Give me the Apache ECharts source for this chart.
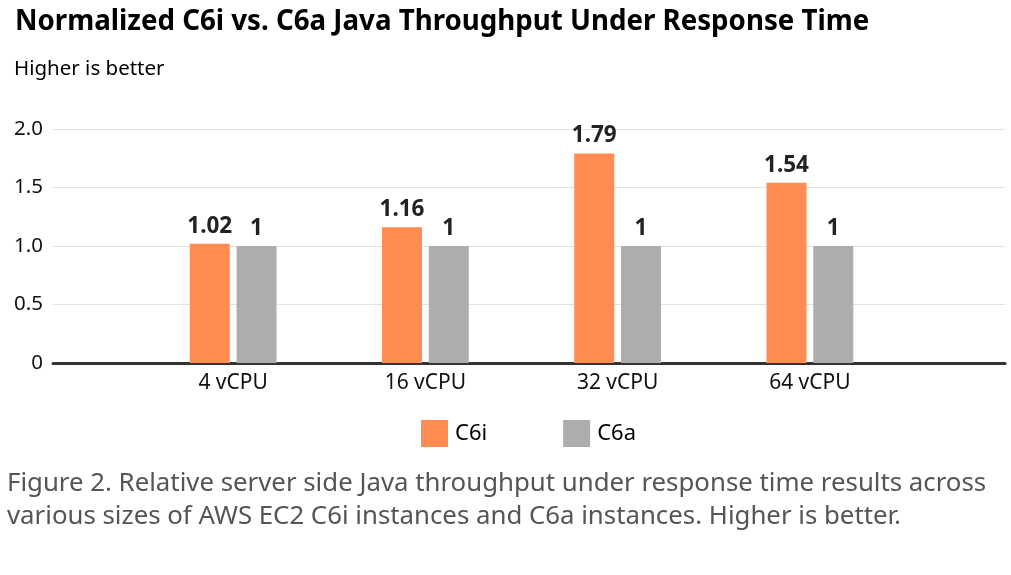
<!DOCTYPE html>
<html><head><meta charset="utf-8">
<script src="https://cdn.jsdelivr.net/npm/echarts@6/dist/echarts.min.js"></script>
<style>html,body{margin:0;padding:0;background:#fff}#c{width:1011px;height:575px}</style>
</head><body><div id="c"></div>
<script>
const categories = ['4 vCPU', '16 vCPU', '32 vCPU', '64 vCPU'];
const c6i = [1.02, 1.16, 1.79, 1.54];
const c6a = [1, 1, 1, 1];
const seriesNames = ['C6i', 'C6a'];
const yTicks = ['0', '0.5', '1.0', '1.5', '2.0'];

const FONT = '"Noto Sans", "Open Sans", sans-serif';
const chart = echarts.init(document.getElementById('c'), null, {renderer: 'canvas'});
const labelStyle = {show: true, position: 'top', distance: 6, fontFamily: FONT, fontWeight: 'bold', fontSize: 22.5, color: '#222'};
chart.setOption({
  animation: false,
  textStyle: {fontFamily: FONT},
  title: [
    {text: 'Normalized C6i vs. C6a Java Throughput Under Response Time', left: 10, top: 3,
     textStyle: {fontFamily: FONT, fontWeight: 'bold', fontSize: 27.7, color: '#000'}},
    {text: 'Higher is better', left: 9, top: 54,
     textStyle: {fontFamily: FONT, fontWeight: 'normal', fontSize: 20.5, color: '#000'}}
  ],
  legend: {
    data: seriesNames, left: 416, top: 415, itemWidth: 27, itemHeight: 27, itemGap: 76,
    icon: 'rect', textStyle: {fontFamily: FONT, fontSize: 22, color: '#000', padding: [0, 0, 0, 2]}
  },
  grid: [
    {left: 53, right: 6, top: 129, bottom: 212},
    {left: 137, right: 105, top: 129, bottom: 212}
  ],
  xAxis: [
    {type: 'category', gridIndex: 0, data: categories, axisLine: {show: true, lineStyle: {color: '#333', width: 3}},
     axisTick: {show: false}, axisLabel: {show: false}},
    {type: 'category', gridIndex: 1, data: categories, axisLine: {show: false}, axisTick: {show: false},
     axisLabel: {fontFamily: FONT, fontSize: 21, color: '#111', margin: 10}}
  ],
  yAxis: [
    {type: 'value', gridIndex: 0, min: 0, max: 2, interval: 0.5,
     axisLabel: {fontFamily: FONT, fontSize: 20.5, color: '#111', margin: 10,
       formatter: v => yTicks[Math.round(v / 0.5)]},
     splitLine: {lineStyle: {color: '#e2e2e2', width: 1}}, axisLine: {show: false}, axisTick: {show: false}},
    {type: 'value', gridIndex: 1, min: 0, max: 2, interval: 0.5, show: false, splitLine: {show: false}}
  ],
  series: [
    {name: seriesNames[0], type: 'bar', xAxisIndex: 1, yAxisIndex: 1, data: c6i, barWidth: 40, barGap: '17%',
     itemStyle: {color: '#FF8C50'}, label: labelStyle},
    {name: seriesNames[1], type: 'bar', xAxisIndex: 1, yAxisIndex: 1, data: c6a, barWidth: 40,
     itemStyle: {color: '#ADADAD'}, label: labelStyle}
  ],
  graphic: [
    {type: 'text', left: 7, top: 471, style: {text: 'Figure 2. Relative server side Java throughput under response time results across',
      font: '25.8px ' + FONT, fill: '#555'}},
    {type: 'text', left: 7, top: 504, style: {text: 'various sizes of AWS EC2 C6i instances and C6a instances. Higher is better.',
      font: '25.8px ' + FONT, fill: '#555'}}
  ]
});
</script></body></html>
